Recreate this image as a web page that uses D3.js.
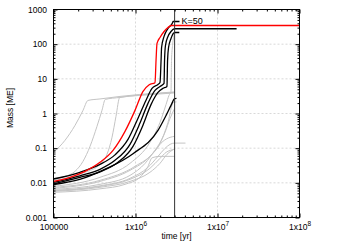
<!DOCTYPE html>
<html><head><meta charset="utf-8">
<script src="https://cdn.jsdelivr.net/npm/d3@7"></script>
<style>body{margin:0;background:#fff}svg{display:block}</style>
</head><body>
<svg id="c" width="350" height="245"></svg>
<script>
// ---- data: [time (yr), mass (ME)] ----
const redTrack = [[1e5,0.011],[1.59e5,0.0144],[2.42e5,0.0214],[3.69e5,0.039],[5.32e5,0.0864],[7.45e5,0.305],[9.86e5,1.23],[1.23e6,4.3],[1.47e6,6.76],[1.73e6,7.72],[1.78e6,33.9],[1.83e6,105],[1.99e6,156],[2.23e6,232],[2.49e6,303],[2.75e6,346],[1e8,346]];
const black1 = [[1e5,0.0129],[2.1e5,0.0201],[3.69e5,0.0341],[5.62e5,0.0641],[8.1e5,0.179],[1.07e6,0.722],[1.34e6,2.38],[1.59e6,5.29],[1.88e6,6.9],[1.99e6,7.88],[2.05e6,33.9],[2.08e6,80.3],[2.23e6,167],[2.49e6,283],[2.84e6,422],[2.87e6,451],[3.44e6,451]];
const black2 = [[1e5,0.0103],[2.1e5,0.0159],[3.69e5,0.0245],[5.62e5,0.0445],[8.57e5,0.129],[1.13e6,0.52],[1.42e6,1.96],[1.73e6,4.63],[1.99e6,6.04],[2.23e6,7.37],[2.26e6,33.9],[2.32e6,91.7],[2.49e6,167],[2.71e6,232],[3e6,278],[1.71e7,278]];
const black3 = [[1e5,0.00936],[2.1e5,0.0144],[3.69e5,0.0207],[6.12e5,0.039],[9.32e5,0.113],[1.23e6,0.454],[1.55e6,1.83],[1.88e6,4.06],[2.16e6,5.29],[2.42e6,6.04],[2.46e6,33.9],[2.53e6,80.3],[2.71e6,146],[3e6,217],[3.42e6,217]];
const black4 = [[1e5,0.0089],[2.09e5,0.0125],[4.4e5,0.0256],[9.32e5,0.0694],[1.88e6,0.326],[2.36e6,0.881],[2.71e6,1.71],[3e6,2.67],[3.16e6,2.72]];
const gray1 = [[1e5,0.075],[1.38e5,0.168],[1.83e5,0.454],[2.29e5,1.23],[2.63e5,2.38],[3.69e5,2.63],[6.47e5,3.11],[1.13e6,3.55],[1.99e6,3.92],[3e6,4.19]];
const gray2 = [[1e5,0.0135],[1.38e5,0.0154],[1.83e5,0.0215],[2.29e5,0.0417],[2.79e5,0.113],[3.39e5,0.425],[3.9e5,1.23],[4.28e5,2.55],[6.47e5,2.91],[1.13e6,3.44],[1.99e6,3.8],[3e6,4.06]];
const gray3 = [[1e5,0.0118],[1.59e5,0.0144],[2.42e5,0.0201],[3.69e5,0.0341],[4.49e5,0.0663],[5.17e5,0.205],[5.78e5,0.825],[6.42e5,2.91],[1.13e6,3.32],[1.99e6,3.67],[3e6,3.92]];
const gray4 = [[1e5,0.00793],[3.69e5,0.0144],[8.57e5,0.0365],[1.5e6,0.147],[1.99e6,0.554],[2.36e6,1.83],[2.56e6,3.32],[2.71e6,4.34],[2.75e6,33.9],[2.83e6,91.7],[2.91e6,156],[3e6,203]];
const gray5 = [[1e5,0.00694],[3.69e5,0.011],[8.57e5,0.0229],[1.5e6,0.058],[1.99e6,0.137],[2.49e6,0.554],[2.89e6,2.09],[3.16e6,2.16]];
const gray6 = [[1e5,0.00742],[3.69e5,0.0118],[9.86e5,0.0299],[1.73e6,0.0864],[2.29e6,0.285],[2.64e6,0.722],[3e6,1.4]];
const gray7 = [[1e5,0.0065],[3.69e5,0.00905],[8.57e5,0.0164],[1.31e6,0.0365],[1.73e6,0.0864],[2.16e6,0.157],[2.64e6,0.205],[3e6,0.219]];
const gray8 = [[1e5,0.00608],[3.69e5,0.0082],[8.57e5,0.0135],[1.42e6,0.028],[1.88e6,0.058],[2.29e6,0.0987],[2.64e6,0.129],[3e6,0.14],[4.07e6,0.14]];
const gray9 = [[1e5,0.00569],[3.69e5,0.00742],[8.57e5,0.011],[1.5e6,0.0201],[1.99e6,0.0365],[2.42e6,0.0663],[3e6,0.0954]];
const gray10 = [[1e5,0.00532],[3.69e5,0.00671],[7.45e5,0.00905],[1.13e6,0.0144],[1.42e6,0.0299],[1.59e6,0.0525],[1.99e6,0.058],[3e6,0.058]];
const gray11 = [[1e5,0.0059],[3.69e5,0.0079],[8.57e5,0.0126],[1.5e6,0.0262],[1.99e6,0.0508],[2.36e6,0.0757],[2.64e6,0.0864],[3e6,0.0923]];
const grayTracks = [gray1,gray2,gray3,gray4,gray5,gray6,gray7,gray8,gray9,gray10,gray11];
const blackTracks = [black4,black3,black2,black1];
const diskEnd = 3e6;
const label = {text:"K=50", t:3.5e6, m:470};
const xTicks = [1e5,1e6,1e7,1e8];
const xTickLabels = [["100000",""],["1x10","6"],["1x10","7"],["1x10","8"]];
const yTicks = [0.001,0.01,0.1,1,10,100,1000];
const yTickLabels = ["0.001","0.01","0.1","1","10","100","1000"];
const xTitle = "time [yr]", yTitle = "Mass [ME]";

// ---- drawing ----
const L=53.5, R=299.5, T=9.5, B=217.5;
const FONT = "Liberation Sans, Arial, sans-serif";
const svg = d3.select("#c");
const x = d3.scaleLog().domain([1e5,1e8]).range([L,R]);
const y = d3.scaleLog().domain([0.001,1000]).range([B,T]);

// grid
const g = svg.append("g").attr("stroke","#cfcfcf").attr("stroke-width",0.8).attr("stroke-dasharray","2,2");
xTicks.slice(1,-1).forEach(v=>g.append("line").attr("x1",x(v)).attr("x2",x(v)).attr("y1",T).attr("y2",B));
yTicks.slice(1,-1).forEach(v=>g.append("line").attr("y1",y(v)).attr("y2",y(v)).attr("x1",L).attr("x2",R));

// minor tick values
const minorX=[], minorY=[];
for(let e=5;e<8;e++) for(let k=2;k<10;k++) minorX.push(k*Math.pow(10,e));
for(let e=-3;e<3;e++) for(let k=2;k<10;k++) minorY.push(k*Math.pow(10,e));

const line = d3.line().x(d=>x(d[0])).y(d=>y(d[1])).curve(d3.curveMonotoneX);
svg.append("clipPath").attr("id","clip").append("rect").attr("x",L).attr("y",T).attr("width",R-L).attr("height",B-T);
const plot = svg.append("g").attr("clip-path","url(#clip)");
plot.selectAll("path.gray").data(grayTracks).join("path").attr("class","gray")
  .attr("d",line).attr("fill","none").attr("stroke","#c4c4c4").attr("stroke-width",1);
plot.selectAll("path.black").data(blackTracks).join("path").attr("class","black")
  .attr("d",line).attr("fill","none").attr("stroke","#000").attr("stroke-width",1.3);
plot.append("path").datum(redTrack).attr("d",line).attr("fill","none").attr("stroke","#ff0000").attr("stroke-width",1.3);

// disk end vertical line
svg.append("line").attr("x1",x(diskEnd)).attr("x2",x(diskEnd)).attr("y1",T).attr("y2",B)
  .attr("stroke","#333").attr("stroke-width",1);

// axes
function styleAxis(sel){ sel.select(".domain").remove(); sel.selectAll("line").attr("stroke","#000"); sel.selectAll("text").attr("fill","#000").style("font-family",FONT).style("font-size","8.5px"); }
const ax = svg.append("g").attr("transform",`translate(0,${B})`).call(d3.axisBottom(x).tickValues(xTicks).tickSize(-4).tickFormat(""));
ax.call(styleAxis);
ax.selectAll(".tick").append("text").attr("y",12).attr("text-anchor","middle").attr("fill","#000")
  .style("font-family",FONT).style("font-size","8.5px")
  .each(function(d,i){ const t=d3.select(this); const lab=xTickLabels[i];
    t.append("tspan").text(lab[0]);
    if(lab[1]) t.append("tspan").attr("dy",-3.5).style("font-size","6.5px").text(lab[1]); });
svg.append("g").attr("transform",`translate(0,${B})`).call(d3.axisBottom(x).tickValues(minorX).tickSize(-2).tickFormat("")).call(styleAxis);
svg.append("g").attr("transform",`translate(0,${T})`).call(d3.axisTop(x).tickValues(xTicks).tickSize(-4).tickFormat("")).call(styleAxis);
svg.append("g").attr("transform",`translate(0,${T})`).call(d3.axisTop(x).tickValues(minorX).tickSize(-2).tickFormat("")).call(styleAxis);
const ay = svg.append("g").attr("transform",`translate(${L},0)`).call(d3.axisLeft(y).tickValues(yTicks).tickSize(-4).tickPadding(6.5).tickFormat((d,i)=>yTickLabels[i]));
ay.call(styleAxis);
ay.selectAll("text").attr("dy","0.32em");
svg.append("g").attr("transform",`translate(${L},0)`).call(d3.axisLeft(y).tickValues(minorY).tickSize(-2).tickFormat("")).call(styleAxis);
svg.append("g").attr("transform",`translate(${R},0)`).call(d3.axisRight(y).tickValues(yTicks).tickSize(-4).tickFormat("")).call(styleAxis);
svg.append("g").attr("transform",`translate(${R},0)`).call(d3.axisRight(y).tickValues(minorY).tickSize(-2).tickFormat("")).call(styleAxis);

// border
svg.append("rect").attr("x",L).attr("y",T).attr("width",R-L).attr("height",B-T).attr("fill","none").attr("stroke","#000").attr("stroke-width",1);

// label
svg.append("text").attr("x",x(label.t)+1.5).attr("y",y(label.m)+3).text(label.text)
  .attr("fill","#000").style("font-family",FONT).style("font-size","9px");

// titles
svg.append("text").attr("x",(L+R)/2).attr("y",238.5).attr("text-anchor","middle").text(xTitle)
  .attr("fill","#000").style("font-family",FONT).style("font-size","8.5px");
svg.append("text").attr("transform",`translate(13,108) rotate(-90)`).attr("text-anchor","middle").text(yTitle)
  .attr("fill","#000").style("font-family",FONT).style("font-size","8.5px");
</script>
</body></html>
